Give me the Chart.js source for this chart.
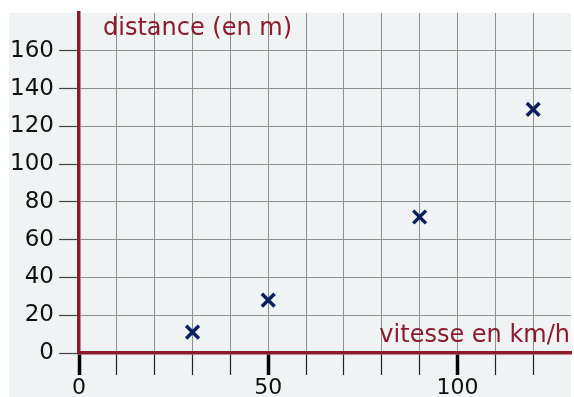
<!DOCTYPE html>
<html>
<head>
<meta charset="utf-8">
<script src="https://cdn.jsdelivr.net/npm/chart.js@4/dist/chart.umd.min.js"></script>
<style>
  html, body { margin: 0; padding: 0; background: #ffffff; }
  #wrap { width: 574px; height: 397px; }
</style>
</head>
<body>
<div id="wrap"><canvas id="c" width="574" height="397"></canvas></div>
<script>
// Vitesse (km/h) et distance d'arrêt (m)
const speeds = [30, 50, 90, 120];
const distances = [11, 28, 72, 129];

// Graduations étiquetées
const xTickLabels = [0, 50, 100];
const yTickLabels = [0, 20, 40, 60, 80, 100, 120, 140, 160];

const xTitle = 'vitesse en km/h';
const yTitle = 'distance (en m)';

const RED = '#8c1a2c';
const NAVY = '#0b1f5e';
const GRID = '#8e8e8e';
const FONT = 'DejaVu Sans';

// Fond gris clair derrière la zone de tracé et les graduations
const panelBg = {
  id: 'panelBg',
  beforeDraw(chart) {
    const { ctx, chartArea } = chart;
    ctx.save();
    ctx.fillStyle = '#eff3f4';
    ctx.fillRect(chartArea.left - 70, chartArea.top,
      chartArea.right - chartArea.left + 70, chart.height - chartArea.top);
    ctx.restore();
  }
};

// Titres des axes placés dans la zone de tracé
const axisTitles = {
  id: 'axisTitles',
  afterDraw(chart) {
    const { ctx, chartArea } = chart;
    ctx.save();
    ctx.fillStyle = RED;
    ctx.font = '24px "' + FONT + '"';
    ctx.textBaseline = 'alphabetic';
    ctx.textAlign = 'left';
    ctx.fillText(yTitle, chartArea.left + 24, chartArea.top + 22);
    ctx.textAlign = 'right';
    ctx.fillText(xTitle, chartArea.right - 1, chartArea.bottom - 11);
    ctx.restore();
  }
};

function noScalePadding(scale) {
  scale.paddingLeft = 0;
  scale.paddingRight = 0;
  scale.paddingTop = 0;
  scale.paddingBottom = 0;
}

new Chart(document.getElementById('c'), {
  type: 'scatter',
  data: {
    datasets: [{
      data: speeds.map((v, i) => ({ x: v, y: distances[i] })),
      pointStyle: 'crossRot',
      pointRadius: 9,
      pointHoverRadius: 9,
      borderColor: NAVY,
      backgroundColor: NAVY,
      pointBorderWidth: 3.5,
      pointHoverBorderWidth: 3.5
    }]
  },
  options: {
    responsive: false,
    animation: false,
    events: [],
    layout: { autoPadding: false, padding: { top: 13, right: 3, left: 0, bottom: 0 } },
    plugins: {
      legend: { display: false },
      tooltip: { enabled: false }
    },
    scales: {
      x: {
        type: 'linear',
        min: 0,
        max: 130,
        afterFit(scale) { scale.height = 44; noScalePadding(scale); },
        afterBuildTicks(scale) {
          scale.ticks = [];
          for (let v = 0; v < 130; v += 10) scale.ticks.push({ value: v });
        },
        border: { display: true, color: RED, width: 3.5, z: 1 },
        grid: {
          drawOnChartArea: true,
          drawTicks: true,
          tickLength: 22,
          color: GRID,
          lineWidth: 1,
          tickColor: (c) => xTickLabels.includes(c.tick && c.tick.value) ? '#000000' : '#222222',
          tickWidth: (c) => xTickLabels.includes(c.tick && c.tick.value) ? 3.5 : 1.2
        },
        ticks: {
          autoSkip: false,
          maxRotation: 0,
          padding: 0,
          color: '#111111',
          font: { family: FONT, size: 22 },
          callback: (v) => xTickLabels.includes(v) ? String(v) : ''
        }
      },
      y: {
        type: 'linear',
        min: 0,
        max: 180,
        afterFit(scale) { scale.width = 79; noScalePadding(scale); },
        afterBuildTicks(scale) {
          scale.ticks = yTickLabels.map(v => ({ value: v }));
        },
        border: { display: true, color: RED, width: 3.5, z: 1 },
        grid: {
          drawOnChartArea: true,
          drawTicks: true,
          tickLength: 20,
          color: GRID,
          lineWidth: 1,
          tickColor: '#444444',
          tickWidth: 1.2
        },
        ticks: {
          autoSkip: false,
          padding: 5,
          color: '#111111',
          font: { family: FONT, size: 23 },
          callback: (v) => String(v)
        }
      }
    }
  },
  plugins: [panelBg, axisTitles]
});
</script>
</body>
</html>
